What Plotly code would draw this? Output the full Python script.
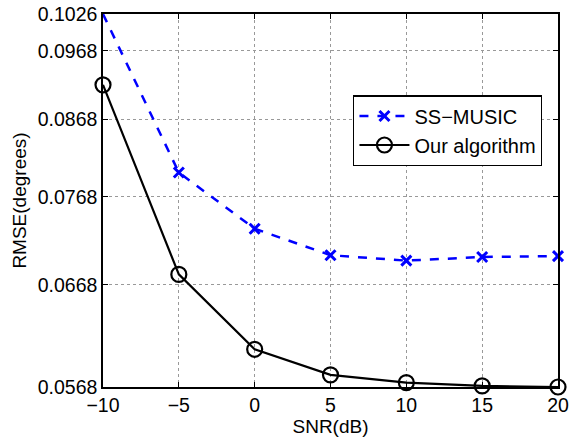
import plotly.graph_objects as go
import math

snr = [-10, -5, 0, 5, 10, 15, 20]
ss_music = [0.1026, 0.0798, 0.0730, 0.0700, 0.0694, 0.0698, 0.0699]
ours = [0.0917, 0.0679, 0.0603, 0.0579, 0.0572, 0.0569, 0.0568]
y_ticks = [0.0568, 0.0668, 0.0768, 0.0868, 0.0968, 0.1026]
y_tick_text = ["0.0568", "0.0668", "0.0768", "0.0868", "0.0968", "0.1026"]
x_ticks = [-10, -5, 0, 5, 10, 15, 20]
x_tick_text = ["\u221210", "\u22125", "0", "5", "10", "15", "20"]

fig = go.Figure()
fig.add_trace(go.Scatter(
    x=snr, y=ss_music, name="SS\u2212MUSIC", mode="lines+markers",
    line=dict(color="blue", width=2.5, dash="dash"),
    marker=dict(symbol="x-thin", size=10, line=dict(color="blue", width=3), color="blue"),
    cliponaxis=False,
))
fig.add_trace(go.Scatter(
    x=snr, y=ours, name="Our algorithm", mode="lines+markers",
    line=dict(color="black", width=2.2),
    marker=dict(symbol="circle-open", size=15, line=dict(color="black", width=2.2), color="black"),
    cliponaxis=False,
))

fam = "Liberation Sans, Arial, sans-serif"
fig.update_layout(
    width=570, height=439,
    margin=dict(l=103, r=12, t=14, b=52),
    paper_bgcolor="white", plot_bgcolor="white",
    font=dict(family=fam, size=19.5, color="black"),
    showlegend=True,
    legend=dict(
        x=0.55, y=0.782, xanchor="left", yanchor="top",
        bgcolor="white", bordercolor="black", borderwidth=1.2,
        font=dict(family=fam, size=20, color="black"),
        tracegroupgap=0, itemwidth=50,
    ),
)
fig.update_xaxes(
    range=[-10, 20], tickvals=x_ticks, ticktext=x_tick_text,
    tickfont=dict(size=19.5), automargin=False,
    showline=True, linecolor="black", linewidth=1.5, mirror="ticks",
    ticks="inside", ticklen=5, tickcolor="black",
    showgrid=True, gridcolor="#999", griddash="dot", gridwidth=1,
    zeroline=False,
    title=dict(text="SNR(dB)", font=dict(size=19), standoff=2),
)
fig.update_yaxes(
    type="log",
    range=[math.log10(y_ticks[0]), math.log10(y_ticks[-1])],
    tickvals=y_ticks, ticktext=y_tick_text,
    tickfont=dict(size=19.5), automargin=False,
    showline=True, linecolor="black", linewidth=1.5, mirror="ticks",
    ticks="inside", ticklen=5, tickcolor="black",
    showgrid=True, gridcolor="#999", griddash="dot", gridwidth=1,
    zeroline=False,
    title=dict(text="RMSE(degrees)", font=dict(size=19), standoff=6),
)
fig.write_html("out.html")
